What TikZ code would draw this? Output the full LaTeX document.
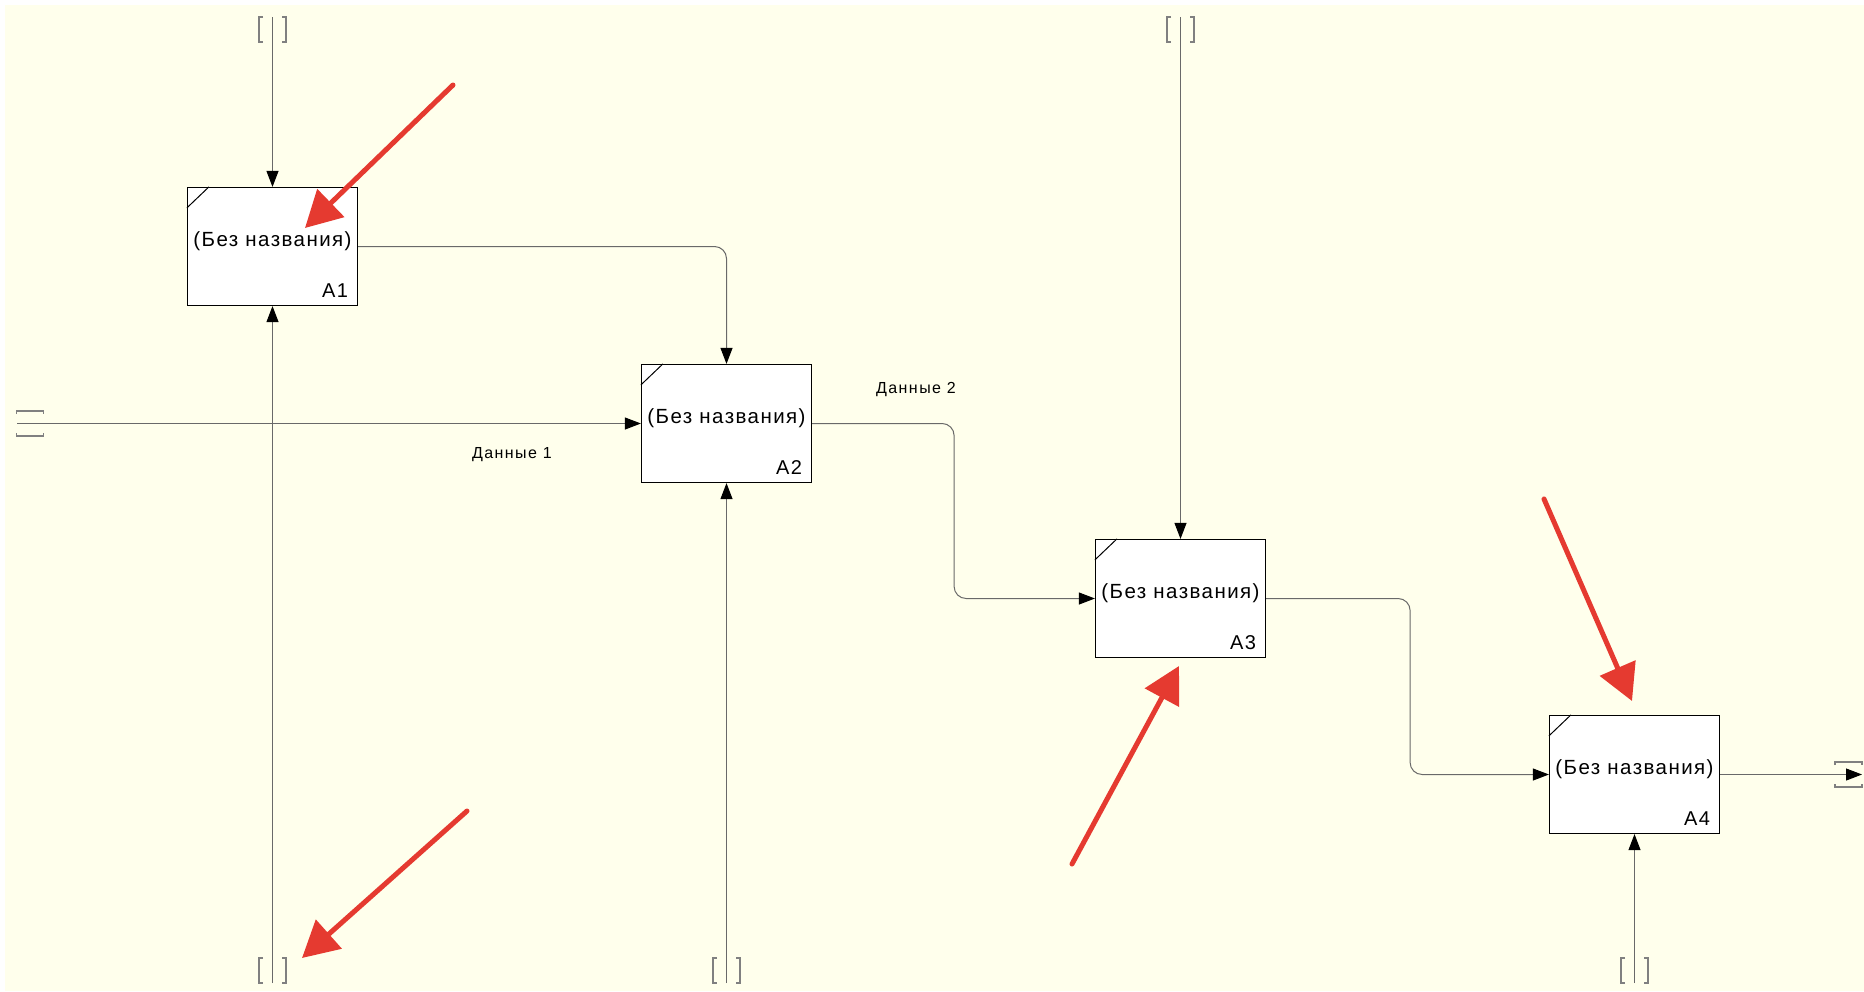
\documentclass[tikz,border=0pt]{standalone}
\usepackage{fontspec}
\setmainfont{Liberation Sans}
\newfontfamily\boxfont[LetterSpace=7]{Liberation Sans}
\newfontfamily\lblfont[LetterSpace=9]{Liberation Sans}
\usepackage{tikz}
\definecolor{bg}{RGB}{255, 255, 236}
\definecolor{ln}{RGB}{105, 105, 105}
\definecolor{tn}{RGB}{128, 128, 128}
\definecolor{rd}{RGB}{229, 58, 48}
\usetikzlibrary{arrows.meta}

\begin{document}
\begin{tikzpicture}[
  func/.style={rectangle, draw=black, fill=white, line width=1.2pt, minimum width=170pt, minimum height=118pt, inner sep=0pt},
  title/.style={inner sep=0pt, font=\boxfont\fontsize{20.5}{24}\selectfont},
  num/.style={inner sep=0pt, anchor=south east, font=\boxfont\fontsize{20}{24}\selectfont},
  lbl/.style={inner sep=0pt, font=\lblfont\fontsize{16}{19}\selectfont},
  flow/.style={draw=ln, line width=1pt, rounded corners=12pt, -{Triangle[length=16pt, width=12pt, color=black]}},
  tunnel/.style={draw=tn, line width=1.3pt},
  note/.style={draw=rd, line width=5pt, line cap=round, -{Triangle[length=36pt, width=38pt, color=rd]}},
  tunv/.pic={
    \draw[tunnel] (-9.5pt,12.5pt) -- (-13.5pt,12.5pt) -- (-13.5pt,-12.5pt) -- (-9.5pt,-12.5pt);
    \draw[tunnel] (9.5pt,12.5pt) -- (13.5pt,12.5pt) -- (13.5pt,-12.5pt) -- (9.5pt,-12.5pt);
  },
  tunh/.pic={
    \draw[tunnel] (-13.5pt,9.5pt) -- (-13.5pt,12.5pt) -- (13.5pt,12.5pt) -- (13.5pt,9.5pt);
    \draw[tunnel] (-13.5pt,-9.5pt) -- (-13.5pt,-12.5pt) -- (13.5pt,-12.5pt) -- (13.5pt,-9.5pt);
  }]
\useasboundingbox (0pt, 0pt) rectangle (1864pt, -991pt);
\fill[bg] (5pt, -5pt) rectangle (1864pt, -991pt);

% function boxes
\node (A1) [func] at (272.5pt, -246.5pt) {};
\node (A2) [func] at (726.5pt, -423.5pt) {};
\node (A3) [func] at (1180.5pt, -598.5pt) {};
\node (A4) [func] at (1634.5pt, -774.5pt) {};
\foreach \b in {A1, A2, A3, A4} {
  \node (t\b) [title] at ([yshift=5pt]\b.center) {(Без названия)};
  \node (n\b) [num] at ([shift={(-10pt,8pt)}]\b.south east) {\b};
  \draw[line width=1pt] ([yshift=-21pt]\b.north west) -- ([xshift=22pt]\b.north west);
}

% tunnels
\pic at (272.5pt, -29.5pt) {tunv};
\pic at (272.5pt, -970.5pt) {tunv};
\pic at (726.5pt, -970.5pt) {tunv};
\pic at (1180.5pt, -29.5pt) {tunv};
\pic at (1634.5pt, -970.5pt) {tunv};
\pic at (30pt, -423.5pt) {tunh};
\pic at (1848.5pt, -774.5pt) {tunh};
\coordinate (c1) at (272.5pt, -17pt);
\coordinate (m1) at (272.5pt, -983pt);
\coordinate (m2) at (726.5pt, -983pt);
\coordinate (c3) at (1180.5pt, -17pt);
\coordinate (m4) at (1634.5pt, -983pt);
\coordinate (i2) at (17pt, -423.5pt);
\coordinate (o4) at (1862pt, -774.5pt);

% arrows
\draw[flow] (c1) -- (A1.north);
\draw[flow] (m1) -- (A1.south);
\draw[flow] (A1.east) -| (A2.north);
\draw[flow] (i2) -- (A2.west);
\draw[flow] (m2) -- (A2.south);
\draw[flow] (A2.east) -- ++(142pt, 0pt) |- (A3.west);
\draw[flow] (c3) -- (A3.north);
\draw[flow] (A3.east) -- ++(144pt, 0pt) |- (A4.west);
\draw[flow] (m4) -- (A4.south);
\draw[flow] (A4.east) -- (o4);

\node (d1) [lbl] at (512pt, -455pt) {Данные 1};
\node (d2) [lbl] at (916pt, -390pt) {Данные 2};

% red marks
\coordinate (r1a) at (453pt, -85pt);
\coordinate (r1b) at (305pt, -228pt);
\coordinate (r2a) at (467pt, -811pt);
\coordinate (r2b) at (302pt, -958pt);
\coordinate (r3a) at (1072pt, -864pt);
\coordinate (r3b) at (1179pt, -666pt);
\coordinate (r4a) at (1544pt, -499pt);
\coordinate (r4b) at (1632pt, -701pt);
\draw[note] (r1a) -- (r1b);
\draw[note] (r2a) -- (r2b);
\draw[note] (r3a) -- (r3b);
\draw[note] (r4a) -- (r4b);
\end{tikzpicture}
\end{document}
